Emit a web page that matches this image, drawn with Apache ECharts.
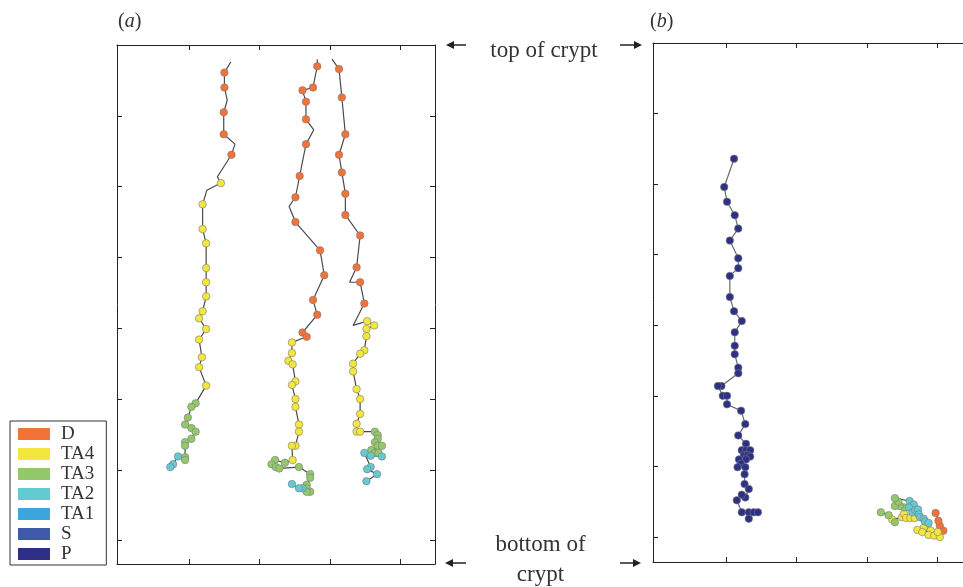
<!DOCTYPE html>
<html>
<head>
<meta charset="utf-8">
<script src="https://cdn.jsdelivr.net/npm/echarts@6/dist/echarts.min.js"></script>
<style>html,body{margin:0;padding:0;background:#fff}#c{width:963px;height:587px}</style>
</head>
<body>
<div id="c"></div>
<script>
// Cell types in legend order and their colours
const cellTypes = ['D', 'TA4', 'TA3', 'TA2', 'TA1', 'S', 'P'];
const typeColors = ['#F2733A', '#F3E63C', '#93C96A', '#63C9D3', '#3EA5DD', '#3F5AA8', '#2E3086'];

// Axis tick values (unlabelled)
const xTicks = [1, 2, 3, 4];
const yTicks = [0, 1, 2, 3, 4, 5, 6];

// Panel (a): three trajectories, [x, y, cellType] ('' = path vertex without a marker)
const trackA1 = [
  [1.59,6.76,''],[1.50,6.61,'D'],[1.50,6.40,'D'],[1.54,6.22,''],[1.49,6.05,'D'],[1.49,5.74,'D'],
  [1.65,5.60,''],[1.60,5.45,'D'],[1.40,5.14,''],[1.45,5.05,'TA4'],[1.25,4.95,''],[1.19,4.75,'TA4'],
  [1.19,4.40,'TA4'],[1.24,4.20,'TA4'],[1.24,3.85,'TA4'],[1.24,3.65,'TA4'],[1.24,3.45,'TA4'],
  [1.19,3.24,'TA4'],[1.14,3.14,'TA4'],[1.24,2.99,'TA4'],[1.14,2.84,'TA4'],[1.18,2.59,'TA4'],
  [1.14,2.45,'TA4'],[1.24,2.19,'TA4'],[1.09,1.94,'TA3'],[1.03,1.89,'TA3'],[0.98,1.74,'TA3'],
  [0.94,1.64,'TA3'],[1.03,1.59,'TA3'],[1.09,1.54,'TA3'],[1.03,1.44,'TA3'],[0.94,1.39,'TA3'],
  [0.94,1.34,'TA3'],[0.94,1.18,'TA3'],[0.94,1.14,'TA3'],[0.84,1.19,'TA2'],[0.77,1.08,'TA2'],
  [0.73,1.04,'TA2']
];
const trackA2 = [
  [2.82,6.80,''],[2.82,6.70,'D'],[2.76,6.40,'D'],[2.61,6.36,'D'],[2.66,6.20,'D'],[2.66,5.95,'D'],
  [2.77,5.80,''],[2.66,5.60,'D'],[2.57,5.15,'D'],[2.51,4.85,'D'],[2.42,4.72,''],[2.51,4.50,'D'],
  [2.86,4.10,'D'],[2.92,3.75,'D'],[2.76,3.40,'D'],[2.82,3.19,'D'],[2.61,2.94,'D'],[2.67,2.88,'D'],
  [2.46,2.80,'TA4'],[2.46,2.65,'TA4'],[2.41,2.54,'TA4'],[2.47,2.49,'TA4'],[2.51,2.25,'TA4'],
  [2.46,2.20,'TA4'],[2.51,2.00,'TA4'],[2.51,1.89,'TA4'],[2.56,1.64,'TA4'],[2.56,1.54,'TA4'],
  [2.51,1.34,'TA4'],[2.46,1.34,'TA4'],[2.47,1.14,'TA4'],[2.36,1.10,'TA3'],[2.22,1.14,'TA3'],
  [2.17,1.08,'TA3'],[2.23,1.04,'TA3'],[2.28,1.02,'TA3'],[2.56,1.04,'TA3'],[2.72,0.94,'TA3'],
  [2.72,0.89,'TA3'],[2.67,0.79,'TA3'],[2.67,0.74,'TA3'],[2.72,0.69,'TA3'],[2.67,0.69,'TA3'],
  [2.61,0.74,'TA2'],[2.56,0.74,'TA2'],[2.46,0.80,'TA2']
];
const trackA3 = [
  [3.03,6.80,''],[3.13,6.66,'D'],[3.17,6.26,'D'],[3.22,5.74,'D'],[3.13,5.45,'D'],[3.17,5.20,'D'],
  [3.22,4.90,'D'],[3.22,4.60,'D'],[3.43,4.31,'D'],[3.38,3.86,'D'],[3.28,3.65,''],[3.43,3.65,'D'],
  [3.49,3.35,'D'],[3.33,3.04,''],[3.53,3.10,'TA4'],[3.63,3.04,'TA4'],[3.52,2.99,'TA4'],
  [3.52,2.89,'TA4'],[3.49,2.69,'TA4'],[3.43,2.64,'TA4'],[3.33,2.50,'TA4'],[3.33,2.39,'TA4'],
  [3.38,2.14,'TA4'],[3.43,2.00,'TA4'],[3.43,1.79,'TA4'],[3.38,1.65,'TA4'],[3.38,1.54,'TA4'],
  [3.43,1.54,'TA4'],[3.64,1.54,'TA3'],[3.68,1.49,'TA3'],[3.68,1.44,'TA3'],[3.64,1.39,'TA3'],
  [3.68,1.34,'TA3'],[3.74,1.34,'TA3'],[3.59,1.28,'TA3'],[3.64,1.24,'TA3'],[3.69,1.24,'TA3'],
  [3.74,1.19,'TA2'],[3.58,1.20,'TA2'],[3.49,1.24,'TA2'],[3.58,1.04,'TA2'],[3.53,1.01,'TA2'],
  [3.67,0.94,'TA2'],[3.52,0.84,'TA2']
];

// Panel (b): two trajectories
const trackB1 = [
  [1.11,5.36,'P'],[0.97,4.96,'P'],[1.01,4.75,'P'],[1.12,4.56,'P'],[1.17,4.37,'P'],[1.05,4.20,'P'],
  [1.17,3.95,'P'],[1.17,3.81,'P'],[1.05,3.70,'P'],[1.05,3.40,'P'],[1.11,3.20,'P'],[1.22,3.06,'P'],
  [1.12,2.90,'P'],[1.12,2.71,'P'],[1.12,2.59,'P'],[1.17,2.40,'P'],[1.17,2.32,'P'],[0.93,2.14,'P'],
  [0.88,2.14,'P'],[0.95,2.00,'P'],[1.01,2.00,'P'],[1.01,1.88,'P'],[1.21,1.79,'P'],[1.27,1.60,'P'],
  [1.17,1.44,'P'],[1.28,1.32,'P'],[1.22,1.23,'P'],[1.28,1.23,'P'],[1.34,1.23,'P'],[1.25,1.16,'P'],
  [1.30,1.16,'P'],[1.34,1.14,'P'],[1.18,1.10,'P'],[1.28,1.10,'P'],[1.21,1.04,'P'],[1.16,0.99,'P'],
  [1.27,0.99,'P'],[1.26,0.89,'P'],[1.26,0.75,'P'],[1.32,0.68,'P'],[1.27,0.56,'P'],[1.22,0.60,'P'],
  [1.15,0.52,'P'],[1.22,0.35,'P'],[1.32,0.35,'P'],[1.32,0.26,'P'],[1.39,0.35,'P'],[1.45,0.35,'P']
];
const trackB2 = [
  [3.20,0.35,'TA3'],[3.31,0.31,'TA3'],[3.40,0.21,'TA3'],[3.36,0.25,'TA4'],[3.50,0.28,'TA4'],
  [3.53,0.33,'TA4'],[3.53,0.42,'TA3'],[3.47,0.44,'TA3'],[3.40,0.44,'TA3'],[3.45,0.50,'TA3'],
  [3.40,0.55,'TA3'],[3.61,0.51,'TA2'],[3.67,0.46,'TA2'],[3.60,0.42,'TA2'],[3.65,0.35,'TA2'],
  [3.69,0.38,'TA2'],[3.73,0.39,'TA2'],[3.74,0.32,'TA2'],[3.76,0.28,'TA2'],[3.56,0.27,'TA4'],
  [3.62,0.27,'TA4'],[3.68,0.27,'TA4'],[3.81,0.26,'TA2'],[3.83,0.22,'TA2'],[3.88,0.20,'TA2'],
  [3.86,0.16,'TA4'],[3.81,0.13,'TA4'],[3.72,0.10,'TA4'],[3.79,0.07,'TA4'],[3.91,0.09,'TA4'],
  [3.88,0.03,'TA4'],[3.96,0.02,'TA4'],[4.04,0.00,'TA4'],[4.01,0.07,'TA4'],[4.09,0.09,'D'],
  [4.04,0.16,'D'],[4.02,0.23,'D'],[3.98,0.34,'D']
];

const panels = [
  {tracks: [trackA1, trackA2, trackA3], axis: 0},
  {tracks: [trackB1, trackB2], axis: 2}
];

const series = [];
panels.forEach(function (p, pi) {
  p.tracks.forEach(function (t, ti) {
    series.push({
      type: 'line', name: 'path' + pi + '_' + ti, xAxisIndex: p.axis, yAxisIndex: p.axis,
      data: t.map(function (d) { return [d[0], d[1]]; }),
      showSymbol: false, symbol: 'none', silent: true, z: 2,
      lineStyle: {color: pi === 1 && ti === 0 ? '#6a6a6a' : '#4a4a4a', width: 1.2}
    });
  });
  cellTypes.forEach(function (ct, ci) {
    const pts = [];
    p.tracks.forEach(function (t) { t.forEach(function (d) { if (d[2] === ct) pts.push([d[0], d[1]]); }); });
    if (pts.length || pi === 0) {
      series.push({
        type: 'scatter', name: ct, xAxisIndex: p.axis, yAxisIndex: p.axis, data: pts,
        symbolSize: 7.5, z: 3, silent: true,
        itemStyle: {color: typeColors[ci], borderColor: '#7a7a7a', borderWidth: 0.6, opacity: 1}
      });
    }
  });
});

function xAx(grid, pos, min, max) {
  return {
    type: 'value', gridIndex: grid, position: pos, min: min, max: max,
    axisLine: {show: true, onZero: false, lineStyle: {color: '#222', width: 1}},
    axisTick: {show: true, inside: true, length: 5, customValues: xTicks, lineStyle: {color: '#222', width: 1}},
    axisLabel: {show: false}, splitLine: {show: false}
  };
}
function yAx(grid, pos, min, max, showLine) {
  return {
    type: 'value', gridIndex: grid, position: pos, min: min, max: max,
    axisLine: {show: showLine, onZero: false, lineStyle: {color: '#222', width: 1}},
    axisTick: {show: showLine, inside: true, length: 5, customValues: yTicks, lineStyle: {color: '#222', width: 1}},
    axisLabel: {show: false}, splitLine: {show: false}
  };
}

const serif = '"Liberation Serif", "Times New Roman", serif';

function arrow(x1, x2, y) {
  // arrow from x1 (tail) to x2 (tip)
  const dir = x2 > x1 ? 1 : -1;
  return {
    type: 'group', children: [
      {type: 'line', shape: {x1: x1, y1: y, x2: x2 - dir * 6, y2: y}, style: {stroke: '#222', lineWidth: 1.5}},
      {type: 'polygon', shape: {points: [[x2, y], [x2 - dir * 8, y - 4], [x2 - dir * 8, y + 4]]}, style: {fill: '#222'}}
    ]
  };
}

const option = {
  animation: false,
  backgroundColor: '#fff',
  grid: [
    {left: 117, top: 45, width: 318, height: 519},
    {left: 653, top: 43, right: 0, height: 519}
  ],
  xAxis: [
    xAx(0, 'bottom', -0.028, 4.495), xAx(0, 'top', -0.028, 4.495),
    xAx(1, 'bottom', -0.044, 4.37), xAx(1, 'top', -0.044, 4.37)
  ],
  yAxis: [
    yAx(0, 'left', -0.329, 7.0, true), yAx(0, 'right', -0.329, 7.0, true),
    yAx(1, 'left', -0.354, 7.0, true), yAx(1, 'right', -0.354, 7.0, false)
  ],
  legend: {
    orient: 'vertical', left: 10, top: 421,
    icon: 'rect', itemWidth: 32, itemHeight: 12, itemGap: 0,
    padding: [3, 12, 1, 8],
    borderColor: '#333', borderWidth: 1,
    itemStyle: {borderWidth: 0},
    textStyle: {fontFamily: serif, fontSize: 19, color: '#333', lineHeight: 20, padding: [0, 0, 0, 6]},
    data: cellTypes.map(function (ct, i) { return {name: ct, itemStyle: {color: typeColors[i], borderWidth: 0}}; })
  },
  graphic: [
    {type: 'text', left: 118, top: 12, style: {text: '{p|(}{i|a}{p|)}', rich: {p: {fontFamily: serif, fontSize: 20, fill: '#333'}, i: {fontFamily: serif, fontSize: 20, fontStyle: 'italic', fill: '#333'}}}},
    {type: 'text', left: 650, top: 12, style: {text: '{p|(}{i|b}{p|)}', rich: {p: {fontFamily: serif, fontSize: 20, fill: '#333'}, i: {fontFamily: serif, fontSize: 20, fontStyle: 'italic', fill: '#333'}}}},
    {type: 'text', x: 544, y: 51, style: {text: 'top of crypt', font: '23px ' + serif, fill: '#333', align: 'center', verticalAlign: 'middle'}},
    {type: 'text', x: 540.5, y: 545, style: {text: 'bottom of', font: '23px ' + serif, fill: '#333', align: 'center', verticalAlign: 'middle'}},
    {type: 'text', x: 540.5, y: 575, style: {text: 'crypt', font: '23px ' + serif, fill: '#333', align: 'center', verticalAlign: 'middle'}},
    arrow(466, 446, 45),
    arrow(620, 642, 45),
    arrow(466, 445, 563),
    arrow(620, 641, 563)
  ],
  series: series
};

const chart = echarts.init(document.getElementById('c'), null, {renderer: 'canvas'});
chart.setOption(option);
</script>
</body>
</html>
